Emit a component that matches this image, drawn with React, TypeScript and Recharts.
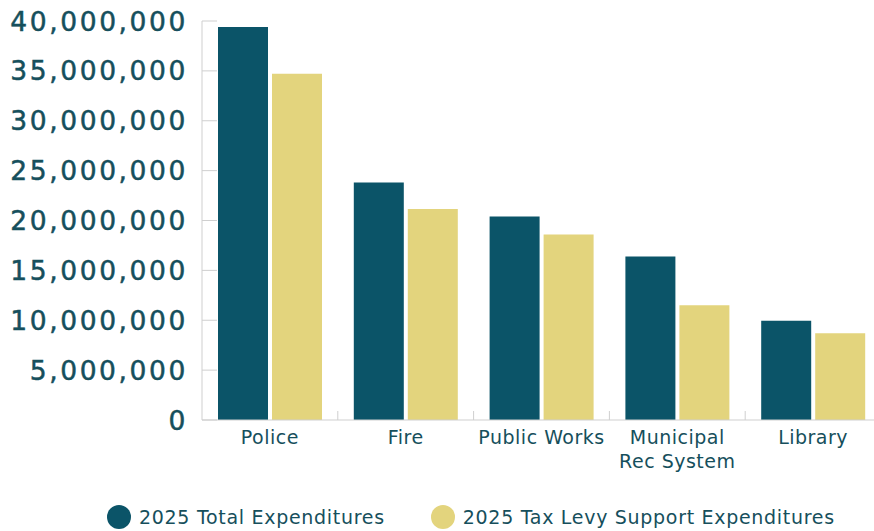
import React from "react";
import { BarChart, Bar, XAxis, YAxis, Legend } from "recharts";

const categories = ["Police", "Fire", "Public Works", "Municipal Rec System", "Library"];
const totalExpenditures = [39400000, 23800000, 20400000, 16400000, 9950000];
const taxLevySupport = [34700000, 21150000, 18600000, 11500000, 8700000];
const yTicks = [0, 5000000, 10000000, 15000000, 20000000, 25000000, 30000000, 35000000, 40000000];
const seriesNames = ["2025 Total Expenditures", "2025 Tax Levy Support Expenditures"];
const seriesKeys = ["total", "levy"];
const seriesColors = ["#0b5468", "#e3d47d"];

const data = categories.map((c, i) => ({
  category: c,
  total: totalExpenditures[i],
  levy: taxLevySupport[i],
}));

const CHART_W = 890;
const CHART_H = 531;
const MARGIN = { top: 21, right: 9, left: 0, bottom: 0 };
const Y_AXIS_W = 202;
const TEXT_COLOR = "#164f5c";
const AXIS_COLOR = "#cfcfcf";
const LABEL_FONT = "'DejaVu Sans', sans-serif";
const bandWidth = (CHART_W - MARGIN.left - MARGIN.right - Y_AXIS_W) / categories.length;

const YTick = (props: any) => {
  const { x, y, payload } = props;
  return (
    <g>
      <line x1={x + 14} x2={x + 29} y1={y} y2={y} stroke={AXIS_COLOR} strokeWidth={1} />
      <text
        x={x}
        y={y}
        dy={9.5}
        textAnchor="end"
        fill={TEXT_COLOR}
        stroke={TEXT_COLOR}
        strokeWidth={0.5}
        fontFamily={LABEL_FONT}
        fontSize={26.5}
        letterSpacing={2.6}
      >
        {Number(payload.value).toLocaleString("en-US")}
      </text>
    </g>
  );
};

const XTick = (props: any) => {
  const { x, y, payload, index } = props;
  const label: string = String(payload.value);
  const words = label.split(" ");
  const lines = label.length > 14 ? [words[0], words.slice(1).join(" ")] : [label];
  return (
    <g>
      {index < categories.length - 1 && (
        <line
          x1={x + bandWidth / 2}
          x2={x + bandWidth / 2}
          y1={y}
          y2={y - 9}
          stroke={AXIS_COLOR}
          strokeWidth={1}
        />
      )}
      <text
        x={x}
        y={y}
        textAnchor="middle"
        fill={TEXT_COLOR}
        fontFamily={LABEL_FONT}
        fontSize={19}
        letterSpacing={0.5}
      >
        {lines.map((l, i) => (
          <tspan key={i} x={x} dy={24}>
            {l}
          </tspan>
        ))}
      </text>
    </g>
  );
};

const LegendContent = () => (
  <div
    style={{
      display: "flex",
      alignItems: "center",
      fontFamily: LABEL_FONT,
      fontSize: 19,
      letterSpacing: 0.7,
      color: TEXT_COLOR,
    }}
  >
    {seriesNames.map((n, i) => (
      <div key={n} style={{ display: "flex", alignItems: "center", marginRight: i === 0 ? 46 : 0 }}>
        <span
          style={{
            display: "inline-block",
            width: 24,
            height: 24,
            borderRadius: "50%",
            background: seriesColors[i],
            marginRight: 8,
          }}
        />
        <span style={{ whiteSpace: "nowrap" }}>{n}</span>
      </div>
    ))}
  </div>
);

export default function App() {
  return (
    <div
      style={{
        position: "absolute",
        left: 0,
        top: 0,
        width: 874,
        height: 531,
        overflow: "hidden",
        background: "#fff",
      }}
    >
      <BarChart width={CHART_W} height={CHART_H} data={data} margin={MARGIN} barSize={50} barGap={4}>
        <XAxis
          dataKey="category"
          height={85}
          interval={0}
          tickLine={false}
          tickSize={0}
          tickMargin={0}
          axisLine={{ stroke: AXIS_COLOR }}
          tick={<XTick />}
        />
        <YAxis
          width={Y_AXIS_W}
          domain={[0, 40000000]}
          ticks={yTicks}
          interval={0}
          tickLine={false}
          tickSize={0}
          tickMargin={14}
          axisLine={{ stroke: AXIS_COLOR }}
          tick={<YTick />}
        />
        <Legend
          verticalAlign="bottom"
          content={<LegendContent />}
          wrapperStyle={{ left: 107, bottom: 0, height: 26, width: 790 }}
        />
        {seriesKeys.map((k, i) => (
          <Bar key={k} dataKey={k} name={seriesNames[i]} fill={seriesColors[i]} isAnimationActive={false} />
        ))}
      </BarChart>
    </div>
  );
}
